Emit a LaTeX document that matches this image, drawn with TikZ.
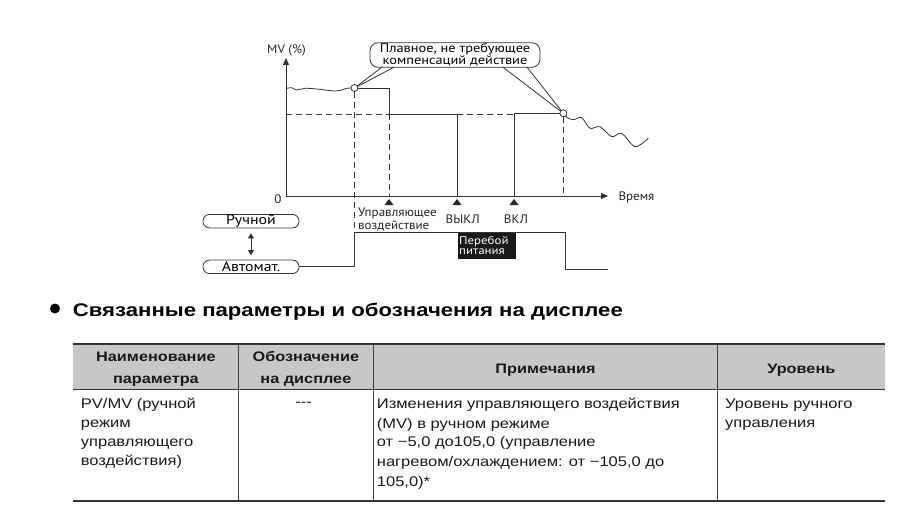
\documentclass[tikz,border=0pt]{standalone}
\usepackage{fontspec}
\setmainfont{Liberation Sans}
\newfontfamily\tabfont[FakeStretch=1.18]{Liberation Sans}
\newfontfamily\headfont[FakeStretch=1.21]{Liberation Sans}
\newfontfamily\dia[FakeStretch=1.06]{PT Sans}
\newfontfamily\diab[FakeStretch=1.15]{PT Sans}
\usetikzlibrary{arrows.meta}
\begin{document}
\begin{tikzpicture}[x=1pt,y=-1pt,
  ln/.style={line width=0.8pt, draw=black!80},
  dsh/.style={line width=0.8pt, draw=black!80, dash pattern=on 6pt off 4pt},
  lbl/.style={font=\dia\fontsize{12.3}{12}\selectfont, inner sep=0, text=black!85},
  tb/.style={font=\tabfont\fontsize{14}{16}\selectfont, inner sep=0, anchor=base west, text=black!90},
  tbh/.style={font=\tabfont\bfseries\fontsize{13.8}{16}\selectfont, inner sep=0, anchor=base, text=black!90},
  modebox/.style={draw=black!80, line width=0.8pt, rounded corners=6.5pt, minimum width=96pt, minimum height=13.5pt, inner sep=0, font=\diab\fontsize{13.8}{13}\selectfont},
  ring/.style={circle, draw=black!80, line width=0.8pt, fill=white, minimum size=7pt, inner sep=0},
  arr/.style={-{Triangle[length=7pt,width=6pt]}},
  tmark/.style={fill=black!85}
]
\useasboundingbox (0,0) rectangle (916,532);

% ---------- axes ----------
\coordinate (O) at (286,196);
\coordinate (ytop) at (286,58);
\coordinate (xend) at (608,196);
\draw[ln, arr] (O) -- (ytop);
\draw[ln, arr] (O) -- (xend);
\node[lbl, anchor=base] (mv) at (286.5,53.5) {MV (\%)};
\node[lbl, anchor=base] (zero) at (278,204) {0};
\begin{scope}
  \clip (600,180) rectangle (654,210);
  \node[lbl, anchor=base west] (time) at (618.3,200.7) {Время};
\end{scope}

% ---------- key points ----------
\coordinate (p1) at (354.5,88);
\coordinate (p2) at (563.3,113.3);

% ---------- callout ----------
\node[draw=black!80, line width=0.8pt, rounded corners=8pt, minimum width=170pt, minimum height=24.5pt, inner sep=0, align=center,
      font=\diab\fontsize{12.5}{11}\selectfont, fill=white] (cb) at (455,55) {Плавное, не требующее\\компенсаций действие};
\draw[ln] (382,67.2) -- (p1);
\draw[ln] (394,67.2) -- (p1);
\draw[ln] (503,67.2) -- (p2);
\draw[ln] (527,67.2) -- (p2);

% ---------- wavy lines ----------
\draw[ln] plot[smooth, tension=0.6] coordinates {(286,88.5) (291.7,87.7) (296.7,90) (305,88.3) (316.7,89) (326.7,90.2) (335,91) (341.7,90) (346.7,88.3) (p1)};
\draw[ln] plot[smooth, tension=0.5] coordinates {(p2) (568.3,118.3) (574,119.5) (581.7,117.7) (590,128.3) (600,126.7) (611.7,136.7) (621.7,133.3) (635,146.7) (648.3,138.3)};

% ---------- MV curve ----------
\coordinate (tA) at (389,196);
\coordinate (tB) at (457,196);
\coordinate (tC) at (514,196);
\draw[ln] (p1) -- (389,88) -- (389,114) -- (457,114) -- (tB);
\draw[ln] (tC) -- (514,113.3) -- (p2);
\draw[dsh] (286,114) -- (389,114);
\draw[dsh] (457,114) -- (514,114);
\draw[dsh] (389,114) -- (tA);
\draw[dsh] (563.3,117) -- (563.3,196);
\draw[dsh] (354.5,92) -- (354.5,232);

\node[ring] (r1) at (p1) {};
\node[ring] (r2) at (p2) {};

% ---------- markers ----------
\fill[tmark] (389,199) -- (393.5,205) -- (384.5,205) -- cycle;
\fill[tmark] (457,199) -- (461.5,205) -- (452.5,205) -- cycle;
\fill[tmark] (514,199) -- (518.5,205) -- (509.5,205) -- cycle;
\node[lbl, anchor=base west] (ctl1) at (358,216.7) {Управляющее};
\node[lbl, anchor=base west] (ctl2) at (358,229.3) {воздействие};
\node[lbl, anchor=base] (off) at (462.8,223) {ВЫКЛ};
\node[lbl, anchor=base] (on) at (516,223) {ВКЛ};

% ---------- power failure ----------
\node[fill=black!90, minimum width=58.7pt, minimum height=26.7pt, inner sep=0, anchor=north west] (pf) at (457.3,231.7) {};
\node[font=\diab\fontsize{11.2}{10}\selectfont, text=white, inner sep=0, anchor=base west] (pf1) at (459,244.3) {Перебой};
\node[font=\diab\fontsize{11.2}{10}\selectfont, text=white, inner sep=0, anchor=base west] (pf2) at (459,254.5) {питания};

% ---------- mode boxes ----------
\node[modebox] (man) at (251,221.2) {Ручной};
\node[modebox] (auto) at (251,266.8) {Автомат.};
\draw[ln, {Triangle[length=5pt,width=6pt]}-{Triangle[length=5pt,width=6pt]}] ([yshift=-5pt]man.south) -- ([yshift=4.5pt]auto.north);
\draw[ln] (auto.east) -- (354.5,266.8) -- (354.5,232) -- (565,232) -- (565,269) -- (608,269);

% ---------- heading ----------
\node[circle, fill=black, minimum size=10pt, inner sep=0] (bul) at (55,308.5) {};
\node[anchor=base west, inner sep=0, font=\headfont\bfseries\fontsize{18.3}{20}\selectfont] (hd) at (72.7,316.7) {Связанные параметры и обозначения на дисплее};

% ---------- table ----------
\fill[black!22] (73.3,344.3) rectangle (885,389.3);
\draw[black!75, line width=0.9pt] (238.5,344.3) -- (238.5,500.7);
\draw[black!75, line width=0.9pt] (373.3,344.3) -- (373.3,500.7);
\draw[black!75, line width=0.9pt] (717.7,344.3) -- (717.7,500.7);
\draw[black!80, line width=2pt] (73.3,344.3) -- (885,344.3);
\draw[black!80, line width=1.6pt] (73.3,389.3) -- (885,389.3);
\draw[black!80, line width=2.2pt] (73.3,500.7) -- (885,500.7);

\node[tbh] (h1a) at (155.9,361.7) {Наименование};
\node[tbh] (h1b) at (155.9,383.3) {параметра};
\node[tbh] (h2a) at (305.9,361.7) {Обозначение};
\node[tbh] (h2b) at (305.9,383.3) {на дисплее};
\node[tbh] (h3) at (545.5,373.3) {Примечания};
\node[tbh] (h4) at (801.3,373.3) {Уровень};

\node[tb] (c1a) at (80.7,408.3) {PV/MV (ручной};
\node[tb] (c1b) at (80.7,427.5) {режим};
\node[tb] (c1c) at (80.7,446.5) {управляющего};
\node[tb] (c1d) at (80.7,465.3) {воздействия)};
\node[tb, anchor=base] (c2) at (303.5,406) {-{}-{}-};
\node[tb] (c3a) at (376.7,408.3) {Изменения управляющего воздействия};
\node[tb] (c3b) at (376.7,428.3) {(MV) в ручном режиме};
\node[tb] (c3c) at (376.7,446.3) {от −5,0 до105,0 (управление};
\node[tb] (c3d) at (376.7,466.7) {нагревом/охлаждением: от −105,0 до};
\node[tb] (c3e) at (376.7,486.7) {105,0)*};
\node[tb] (c4a) at (725,408.3) {Уровень ручного};
\node[tb] (c4b) at (725,427.3) {управления};
\end{tikzpicture}
\end{document}
